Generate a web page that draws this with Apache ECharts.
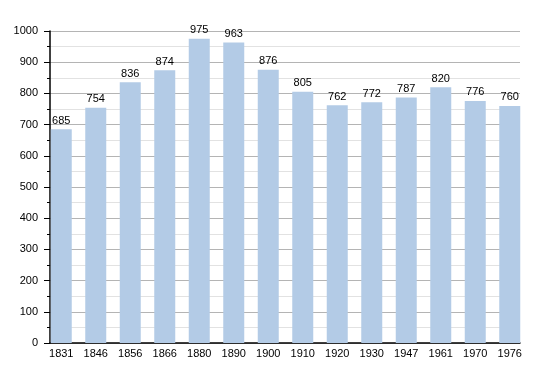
<!DOCTYPE html>
<html><head><meta charset="utf-8">
<script src="https://cdn.jsdelivr.net/npm/echarts@6/dist/echarts.min.js"></script>
<style>html,body{margin:0;padding:0;background:#fff}#c{width:550px;height:373px}</style>
</head><body><div id="c"></div>
<script>
const years = ['1831','1846','1856','1866','1880','1890','1900','1910','1920','1930','1947','1961','1970','1976'];
const population = [685,754,836,874,975,963,876,805,762,772,787,820,776,760];
const yTicks = {min:0, max:1000, interval:100};

const chart = echarts.init(document.getElementById('c'), null, {renderer:'canvas'});
const font = 'Liberation Sans, Arial, sans-serif';
chart.setOption({
  animation:false,
  backgroundColor:'#fff',
  grid:[
    {left:50, right:30, top:31, bottom:30},
    {left:44, right:23, top:31, bottom:30}
  ],
  xAxis:[
    {type:'category', gridIndex:0, data:years, axisLine:{show:true, lineStyle:{color:'#000', width:1.5}}, axisTick:{show:false}, axisLabel:{show:false}, splitLine:{show:false}},
    {type:'category', gridIndex:1, data:years, axisLine:{show:false}, axisTick:{show:false},
     axisLabel:{show:true, color:'#000', fontFamily:font, fontSize:11, margin:5}, splitLine:{show:false}}
  ],
  yAxis:[
    {type:'value', gridIndex:0, min:yTicks.min, max:yTicks.max, interval:yTicks.interval,
     axisLine:{show:true, lineStyle:{color:'#000', width:1.5}},
     axisTick:{show:true, length:6, lineStyle:{color:'#000'}},
     minorTick:{show:true, splitNumber:2, length:3, lineStyle:{color:'#000'}},
     axisLabel:{color:'#000', fontFamily:font, fontSize:11, margin:12, formatter:v => String(v)},
     splitLine:{show:true, lineStyle:{color:'#b4b4b4', width:1}},
     minorSplitLine:{show:true, lineStyle:{color:'#e2e2e2', width:1}}},
    {type:'value', gridIndex:1, min:yTicks.min, max:yTicks.max, interval:yTicks.interval, show:false, splitLine:{show:false}}
  ],
  series:[{
    type:'bar', xAxisIndex:1, yAxisIndex:1, data:population, barWidth:21,
    itemStyle:{color:'#b3cbe6'},
    label:{show:true, position:'top', distance:3, color:'#000', fontFamily:font, fontSize:11}
  }]
});
</script></body></html>
